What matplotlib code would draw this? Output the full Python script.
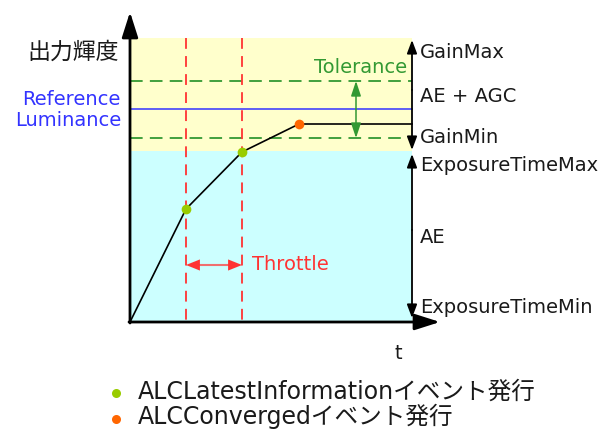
import matplotlib
matplotlib.use("Agg")
import matplotlib.pyplot as plt
from matplotlib.patches import Rectangle

plt.rcParams['font.family'] = ['DejaVu Sans', 'Noto Sans CJK JP']

# ---- data (diagram units: pixel-like coordinates, y grows downward) ----
origin_x, origin_y = 130, 322
right_x = 412
gain_max_y = 38
gain_min_y = 151
tol_upper_y = 81
tol_lower_y = 138
ref_lum_y = 109
curve_x = [130, 186, 242, 299, 412]
curve_y = [322, 209, 152, 124, 124]
latest_info_x = [186, 242]
latest_info_y = [209, 152]
converged_x = [299]
converged_y = [124]
throttle_y = 265
tolerance_x = 356

right_labels = ["GainMax", "AE + AGC", "GainMin", "ExposureTimeMax", "AE", "ExposureTimeMin"]
right_label_y = [58, 102, 143, 171, 243, 313]
legend_labels = ["ALCLatestInformationイベント発行", "ALCConvergedイベント発行"]

# colours
YELLOW = "#FFFFCC"
CYAN = "#CCFFFF"
GREEN_DASH = "#339933"
RED = "#FF3333"
BLUE = "#3333FF"
DOT_GREEN = "#99CC00"
DOT_ORANGE = "#FF6600"
TEXT = "#1a1a1a"

fig = plt.figure(figsize=(6.06, 4.30), dpi=100)
ax = fig.add_axes([0, 0, 1, 1])
ax.set_xlim(0, 606)
ax.set_ylim(430, 0)
ax.axis("off")

# background regions
ax.add_patch(Rectangle((origin_x, gain_max_y), right_x - origin_x, gain_min_y - gain_max_y,
                       facecolor=YELLOW, edgecolor="none", zorder=0))
ax.add_patch(Rectangle((origin_x, gain_min_y), right_x - origin_x, origin_y - gain_min_y,
                       facecolor=CYAN, edgecolor="none", zorder=0))

# tolerance dashed lines and reference line
for yv in (tol_upper_y, tol_lower_y):
    ax.plot([origin_x, right_x], [yv, yv], color=GREEN_DASH, lw=1.3,
            dashes=(7, 4), zorder=2)
ax.plot([origin_x, right_x], [ref_lum_y, ref_lum_y], color=BLUE, lw=1.1, zorder=2)

# red dashed verticals
for xv in latest_info_x:
    ax.plot([xv, xv], [gain_max_y, origin_y], color=RED, lw=1.3, dashes=(6, 4), zorder=2)

# curve
ax.plot(curve_x, curve_y, color="black", lw=1.2, zorder=3)
ax.plot(latest_info_x, latest_info_y, 'o', color=DOT_GREEN, ms=7, mec="none", zorder=4)
ax.plot(converged_x, converged_y, 'o', color=DOT_ORANGE, ms=7, mec="none", zorder=4)

# main axes arrows
def arrow(x0, y0, x1, y1, color="black", lw=1.0, hl=0.8, hw=0.3, ms=14, z=5):
    ax.annotate("", xy=(x1, y1), xytext=(x0, y0),
                arrowprops=dict(arrowstyle=f"-|>,head_length={hl},head_width={hw}",
                                color=color, lw=lw, shrinkA=0, shrinkB=0,
                                mutation_scale=ms), zorder=z)

arrow(origin_x, origin_y + 1, origin_x, 12, lw=2.0, hl=1.1, hw=0.35, ms=14)
arrow(origin_x - 1, origin_y, 440, origin_y, lw=2.0, hl=1.1, hw=0.35, ms=14)

# right side range arrows
arrow(right_x, 90, right_x, 40, lw=1.3, hl=0.8, hw=0.3, ms=10)
arrow(right_x, 90, right_x, 150, lw=1.3, hl=0.8, hw=0.3, ms=10)
arrow(right_x, 230, right_x, 154, lw=1.3, hl=0.8, hw=0.3, ms=10)
arrow(right_x, 230, right_x, 318, lw=1.3, hl=0.8, hw=0.3, ms=10)

# throttle arrow
tc = (latest_info_x[0] + latest_info_x[1]) / 2
ax.plot([latest_info_x[0] + 8, latest_info_x[1] - 8], [throttle_y, throttle_y],
        color="#F07070", lw=1.5, zorder=4)
arrow(tc, throttle_y, latest_info_x[0], throttle_y, color=RED, lw=0.01, hl=1.0, hw=0.4, ms=10)
arrow(tc, throttle_y, latest_info_x[1], throttle_y, color=RED, lw=0.01, hl=1.0, hw=0.4, ms=10)
ax.text(252, 270, "Throttle", color=RED, fontsize=14, ha="left", va="baseline")

# tolerance arrow
tm = (tol_upper_y + tol_lower_y) / 2
arrow(tolerance_x, tm, tolerance_x, tol_upper_y, color=GREEN_DASH, lw=1.1, hl=0.9, hw=0.3, ms=10)
arrow(tolerance_x, tm, tolerance_x, tol_lower_y, color=GREEN_DASH, lw=1.1, hl=0.9, hw=0.3, ms=10)
ax.text(407, 73, "Tolerance", color=GREEN_DASH, fontsize=14, ha="right", va="baseline")

# y label & reference luminance
ax.text(119, 52, "出力輝度", fontsize=16.5, ha="right", va="center", color=TEXT)
ax.text(121, 105, "Reference", color=BLUE, fontsize=14, ha="right", va="baseline")
ax.text(121, 126, "Luminance", color=BLUE, fontsize=14, ha="right", va="baseline")

# right labels
for lab, yv in zip(right_labels, right_label_y):
    ax.text(420, yv, lab, fontsize=14, ha="left", va="baseline", color=TEXT)

# t label
ax.text(398, 359, "t", fontsize=14, ha="center", va="baseline", color=TEXT)

# legend
leg_dot_y = [393, 419]
leg_text_y = [399, 424]
leg_colors = [DOT_GREEN, DOT_ORANGE]
for lab, yd, yt, c in zip(legend_labels, leg_dot_y, leg_text_y, leg_colors):
    ax.plot([116], [yd], 'o', color=c, ms=6.5, mec="none")
    ax.text(138, yt, lab, fontsize=17, ha="left", va="baseline", color=TEXT)

fig.savefig("out.png", dpi=100)
